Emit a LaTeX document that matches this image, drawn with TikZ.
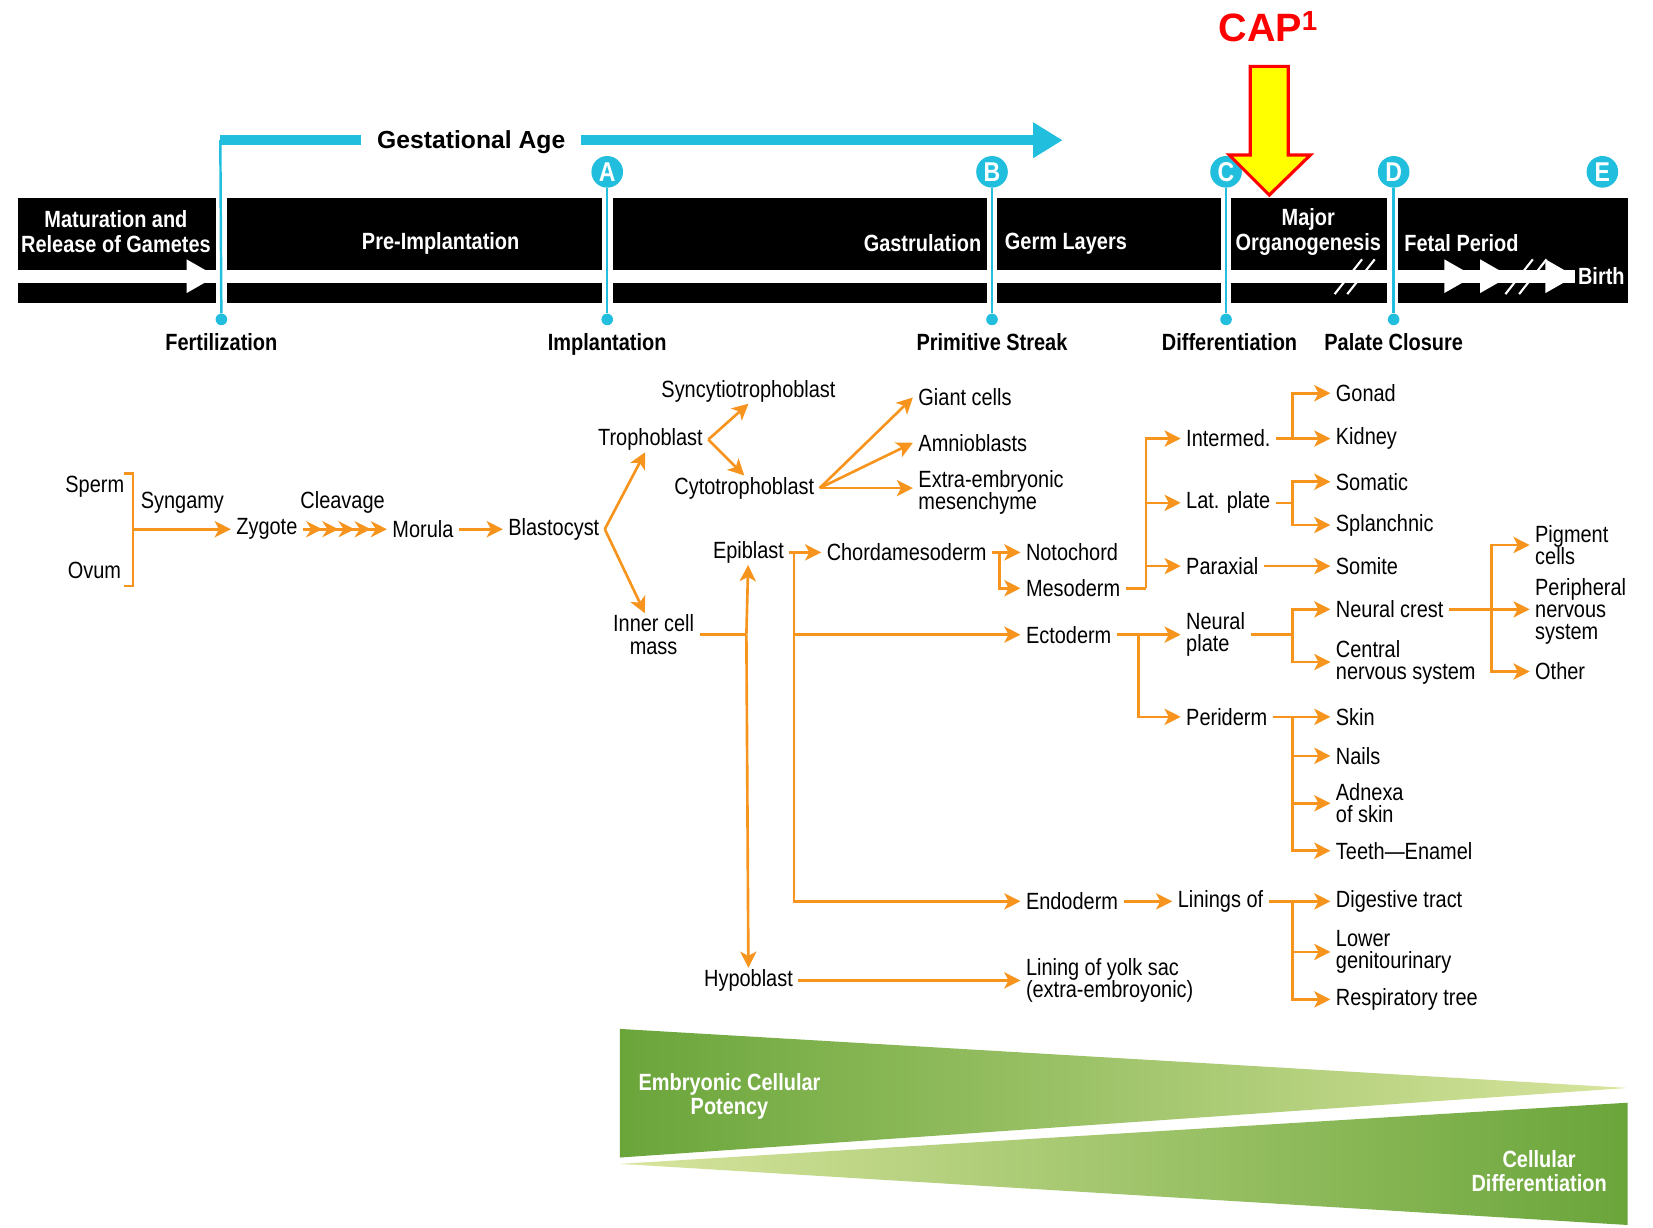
\documentclass[tikz,border=0pt]{standalone}
\usepackage{fontspec}
\setmainfont{Liberation Sans}[FakeStretch=0.85]
\newfontfamily\widefont{Liberation Sans}
\usetikzlibrary{positioning,arrows.meta}
\definecolor{gacyan}{RGB}{33,190,221}
\definecolor{treeorange}{RGB}{247,148,29}
\definecolor{gdark}{RGB}{106,165,58}
\definecolor{glight}{RGB}{216,229,158}
\definecolor{capred}{RGB}{255,0,0}
\definecolor{capyellow}{RGB}{255,255,0}
\newcommand\lblfont{\fontsize{19}{18}\selectfont}
\newcommand\hdfont{\bfseries\fontsize{19}{20}\selectfont}
\newcommand\msfont{\bfseries\fontsize{19}{20}\selectfont}
\newcommand\gafont{\widefont\bfseries\fontsize{20}{20}\selectfont}
\newcommand\capfont{\widefont\bfseries\fontsize{32}{32}\selectfont}
\newcommand\badgefont{\bfseries\fontsize{22}{22}\selectfont}
\begin{document}
\begin{tikzpicture}[x=0.3mm,y=-0.3mm,
  lbl/.style={inner xsep=1.5mm,inner ysep=0.4mm,font=\lblfont,align=left},
  hd/.style={inner sep=0pt,font=\hdfont,text=white,align=center},
  ms/.style={inner sep=0pt,font=\msfont},
  badge/.style={circle,fill=gacyan,minimum size=9mm,inner sep=0pt,text=white,font=\badgefont},
  pin/.style={circle,fill=gacyan,minimum size=3.3mm,inner sep=0pt},
  pinline/.style={draw=gacyan,line width=0.7mm},
  gabar/.style={draw=gacyan,line width=3mm},
  tree/.style={draw=treeorange,line width=0.75mm,-{Stealth[length=4.6mm,width=4.6mm,inset=1.2mm]}},
  stem/.style={draw=treeorange,line width=0.75mm},
  chevrons/.style={draw=treeorange,line width=0.75mm,
    -{Stealth[length=4.6mm,width=4.6mm,inset=1.5mm]Stealth[length=4.6mm,width=4.6mm,inset=1.5mm]Stealth[length=4.6mm,width=4.6mm,inset=1.5mm]Stealth[length=4.6mm,width=4.6mm,inset=1.5mm]Stealth[length=4.6mm,width=4.6mm,inset=1.5mm]}},
  slash/.style={draw=white,line width=0.6mm}]
\fill[white] (0,0) rectangle (1568,1164);
\useasboundingbox (0,0) rectangle (1568,1164);
% gestational age bar
\coordinate (gsL) at (209,133);
\coordinate (gsR) at (1008,133);
\node[font=\gafont,inner xsep=4.5mm,inner ysep=0pt] (gtxt) at (447,135) {Gestational Age};
\draw[gabar] (gsL) -- (gtxt.west |- gsL);
\draw[gabar,-{Triangle[length=8.4mm,width=9.6mm]}] (gtxt.east |- gsR) -- (gsR);
% black timeline band
\foreach \a/\b in {17/205,215/571,581/936,946/1158,1168/1316,1326/1544}{
  \fill (\a,188) rectangle (\b,256);
  \fill (\a,268) rectangle (\b,287);}
\fill (1494,255) rectangle (1544,269);
\foreach \t in {205,1398,1432,1494}
  \fill[white] (\t,262) -- ++(-28,-16) -- ++(0,32) -- cycle;
\foreach \s in {1266,1278,1428,1441}
  \draw[slash] (\s,279) -- ++(26,-33);
% band texts
\node[hd] (matur) at (110,220) {Maturation and\\Release of Gametes};
\node[hd] (preimp) at (418,231) {Pre-Implantation};
\node[hd,anchor=east] (gastr) at (931,231) {Gastrulation};
\node[hd,anchor=west] (germ) at (953,231) {Germ Layers};
\node[hd] (organo) at (1241,220) {Major\\Organogenesis};
\node[hd,anchor=west] (fetal) at (1332,231) {Fetal Period};
\node[hd] (birth) at (1519,262) {Birth};
% milestones
\foreach \n/\x in {A/576,B/941,C/1163,D/1322,E/1520}
  \node[badge] (c\n) at (\x,163) {\n};
\foreach \n/\x in {F/210,A/576,B/941,C/1163,D/1322}
  \node[pin] (d\n) at (\x,303) {};
\draw[pinline] (gsL) -- (dF);
\foreach \n in {A,B,C,D} \draw[pinline] (c\n) -- (d\n);
\node[ms,below=2.2mm of dF] (lF) {Fertilization};
\node[ms,below=2.2mm of dA] (lA) {Implantation};
\node[ms,below=2.2mm of dB] (lB) {Primitive Streak};
\node[ms,below=2.2mm of dC,xshift=1mm] (lC) {Differentiation};
\node[ms,below=2.2mm of dD] (lD) {Palate Closure};
% CAP marker
\node[font=\capfont,text=capred,inner sep=0pt] (cap) at (1203,25) {CAP\textsuperscript{1}};
\filldraw[fill=capyellow,draw=capred,line width=0.9mm]
  (1186,63) -- (1222,63) -- (1222,147) -- (1243,147) -- (1204,185) -- (1166,147) -- (1186,147) -- cycle;
% fertilization to blastocyst
\node[lbl,anchor=east] (sperm) at (123,462) {Sperm};
\node[lbl,anchor=east] (ovum) at (120,541) {Ovum};
\coordinate (brT) at (126,449);
\coordinate (brB) at (126,556);
\coordinate (brM) at (126,502);
\node[lbl] (syng) at (173,477) {Syngamy};
\node[lbl,anchor=west] (zyg) at (219,502) {Zygote};
\node[lbl] (cleav) at (325,477) {Cleavage};
\node[lbl,anchor=west] (mor) at (367,502) {Morula};
\node[lbl,anchor=west] (blast) at (477,502) {Blastocyst};
\draw[stem] ([xshift=-2.4mm]brT) -- (brT) -- (brB) -- ([xshift=-2.4mm]brB);
\draw[tree] (brM) -- (zyg);
\draw[chevrons] (zyg) -- (mor);
\draw[tree] (mor) -- (blast);
% trophoblast branch
\node[lbl] (troph) at (617,417) {Trophoblast};
\node[lbl] (syn) at (710,371) {Syncytiotrophoblast};
\node[lbl] (cyto) at (706,463) {Cytotrophoblast};
\node[lbl,anchor=west] (giant) at (866,377) {Giant cells};
\node[lbl,anchor=west] (amnio) at (866,420) {Amnioblasts};
\node[lbl,anchor=west] (extra) at (866,467) {Extra-embryonic\\mesenchyme};
\draw[tree] (blast.east) -- ([xshift=-1.5mm]troph.south);
\draw[tree] (troph.east) -- (syn.south);
\draw[tree] (troph.east) -- (cyto.north);
\draw[tree] (cyto.east) -- (giant.west);
\draw[tree] (cyto.east) -- (amnio.west);
\draw[tree] (cyto.east) -- (cyto.east -| extra.west);
% inner cell mass branch
\node[lbl,align=center] (icm) at (620,602) {Inner cell\\mass};
\node[lbl] (epi) at (710,524) {Epiblast};
\node[lbl] (hypo) at (710,930) {Hypoblast};
\coordinate (icmB) at (708,602);
\draw[tree] (blast.east) -- ([xshift=-2.5mm]icm.north);
\draw[stem] (icm) -- (icmB);
\draw[tree] (icmB) -- (epi);
\draw[tree] (icmB) -- (hypo);
% germ layers
\node[lbl,anchor=west] (chorda) at (779,524) {Chordamesoderm};
\node[lbl,anchor=west] (noto) at (968,524) {Notochord};
\node[lbl,anchor=west] (meso) at (968,558) {Mesoderm};
\node[lbl,anchor=west] (ecto) at (968,602) {Ectoderm};
\node[lbl,anchor=west] (endo) at (968,855) {Endoderm};
\node[lbl,anchor=west] (yolk) at (968,930) {Lining of yolk sac\\(extra-embroyonic)};
\coordinate (epiV) at (753,524);
\coordinate (chB) at (948,524);
\draw[tree] (epi) -- (chorda);
\draw[tree] (epiV) |- (ecto);
\draw[tree] (epiV) |- (endo);
\draw[tree] (chorda) -- (noto);
\draw[tree] (chB) |- (meso);
\draw[tree] (hypo) -- (hypo -| yolk.west);
% mesoderm
\node[lbl,anchor=west] (interm) at (1120,416) {Intermed.};
\node[lbl,anchor=west] (latp) at (1120,477) {Lat. plate};
\node[lbl,anchor=west] (parax) at (1120,537) {Paraxial};
\node[lbl,anchor=west] (gonad) at (1262,373) {Gonad};
\node[lbl,anchor=west] (kidney) at (1262,416) {Kidney};
\node[lbl,anchor=west] (somatic) at (1262,457) {Somatic};
\node[lbl,anchor=west] (splan) at (1262,498) {Splanchnic};
\node[lbl,anchor=west] (somite) at (1262,537) {Somite};
\coordinate (mesoB) at (1087,558);
\coordinate (intB) at (1226,416);
\coordinate (latB) at (1226,477);
\draw[stem] (meso) -- (mesoB);
\foreach \c in {interm,latp,parax} \draw[tree] (mesoB) |- (\c);
\draw[tree] (interm) -- (kidney);
\draw[tree] (intB) |- (gonad);
\draw[stem] (latp) -- (latB);
\draw[tree] (latB) |- (somatic);
\draw[tree] (latB) |- (splan);
\draw[tree] (parax) -- (somite);
% ectoderm
\node[lbl,anchor=west] (npl) at (1120,602) {Neural\\plate};
\node[lbl,anchor=west] (peri) at (1120,680) {Periderm};
\node[lbl,anchor=west] (ncrest) at (1262,578) {Neural crest};
\node[lbl,anchor=west] (cns) at (1262,628) {Central\\nervous system};
\node[lbl,anchor=west] (pigm) at (1451,517) {Pigment\\cells};
\node[lbl,anchor=west] (pns) at (1451,580) {Peripheral\\nervous\\system};
\node[lbl,anchor=west] (other) at (1451,637) {Other};
\node[lbl,anchor=west] (skin) at (1262,680) {Skin};
\node[lbl,anchor=west] (nails) at (1262,717) {Nails};
\node[lbl,anchor=west] (adnexa) at (1262,762) {Adnexa\\of skin};
\node[lbl,anchor=west] (teeth) at (1262,807) {Teeth---Enamel};
\coordinate (ectB) at (1080,602);
\coordinate (nplB) at (1226,602);
\coordinate (ncB) at (1415,578);
\coordinate (perB) at (1226,680);
\draw[tree] (ecto) -- (npl);
\draw[tree] (ectB) |- (peri);
\draw[stem] (npl) -- (nplB);
\draw[tree] (nplB) |- (ncrest);
\draw[tree] (nplB) |- (cns);
\draw[tree] (ncrest.east) -- (ncrest.east -| pns.west);
\draw[tree] (ncB) |- (pigm);
\draw[tree] (ncB) |- (other);
\draw[tree] (peri) -- (skin);
\foreach \c in {nails,adnexa,teeth} \draw[tree] (perB) |- (\c);
% endoderm
\node[lbl,anchor=west] (lin) at (1112,855) {Linings of};
\node[lbl,anchor=west] (dig) at (1262,855) {Digestive tract};
\node[lbl,anchor=west] (lower) at (1262,903) {Lower\\genitourinary};
\node[lbl,anchor=west] (resp) at (1262,948) {Respiratory tree};
\coordinate (linB) at (1226,855);
\draw[tree] (endo) -- (lin);
\draw[tree] (lin) -- (dig);
\draw[tree] (linB) |- (lower);
\draw[tree] (linB) |- (resp);
% potency / differentiation wedges
\shade[left color=gdark,right color=glight] (588,976) -- (1544,1032) -- (588,1098) -- cycle;
\shade[left color=glight,right color=gdark] (588,1104) -- (1544,1046) -- (1544,1162) -- cycle;
\node[hd] (poten) at (692,1040) {Embryonic Cellular\\Potency};
\node[hd] (diffr) at (1460,1111) {Cellular\\Differentiation};
\end{tikzpicture}
\end{document}
